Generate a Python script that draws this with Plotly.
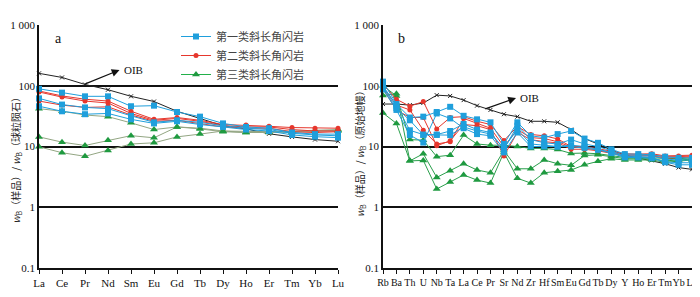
import plotly.graph_objects as go

# ---------------- data ----------------
ree = ["La", "Ce", "Pr", "Nd", "Sm", "Eu", "Gd", "Tb", "Dy", "Ho", "Er", "Tm", "Yb", "Lu"]
oib_ree = [160, 137, 105, 86, 67, 55, 38, 29, 22, 19.5, 16.2, 14.4, 13, 12.2]
type1_ree = [
    [89, 77, 67, 67, 46, 47, 37, 31, 24, 21, 20, 17, 16, 16],
    [62, 49, 44, 42, 32, 25, 27, 25, 22, 20, 19, 16.5, 15.5, 15],
    [46, 38, 34, 35, 28, 24, 26, 23, 21, 19, 18, 15.5, 14.5, 14],
]
type2_ree = [
    [82, 68, 60, 56, 38, 28, 30, 27, 23, 22.5, 21.5, 20.5, 20, 20],
    [79, 65, 56, 52, 35, 27, 29, 26, 22, 21, 21, 19, 18, 18],
    [56, 48, 44, 45, 33, 26, 27, 24, 21, 20, 20, 17.5, 17, 17.5],
]
type3_ree = [
    [42, 38, 33, 31, 24.5, 19, 21, 20, 18, 17.5, 17.5, 18, 18.5, 19],
    [14.4, 11.8, 10.4, 12.7, 15.1, 13.9, 21, 19.5, 17.5, 17, 17.5, 17, 18, 18],
    [9.9, 7.9, 6.9, 8.6, 11, 11.5, 14.4, 16, 18, 17, 17, 17.5, 18, 18.5],
]

spider = ["Rb", "Ba", "Th", "U", "Nb", "Ta", "La", "Ce", "Pr", "Sr", "Nd", "Zr",
          "Hf", "Sm", "Eu", "Gd", "Tb", "Dy", "Y", "Ho", "Er", "Tm", "Yb", "Lu"]
oib_pm = [50, 50, 48, 52, 70, 68, 58, 47, 40, 34, 31, 26, 26, 25, 19, 13.5,
          11, 8.7, 7.2, 6.5, 5.9, 5.2, 4.5, 4.2]
type1_pm = [
    [117, 50, 30, 31, 37, 45, 32, 28, 25, 11, 25, 15, 14, 16, 18, 13.5, 11.5, 9, 7.5, 7.5, 7.3, 6.8, 6.5, 6.5],
    [100, 47, 18.5, 15.7, 15.7, 18, 23.5, 19, 17, 9, 22, 13, 11.5, 11, 13, 11, 10, 8.5, 7, 7, 7, 6.2, 6, 6],
    [87, 40, 15.4, 11.6, 35, 29, 20, 16, 15, 8, 17, 10, 10, 10, 10.5, 10, 9, 8, 6.8, 6.8, 6.6, 5.5, 5, 5],
    [95, 43, 27, 15.5, 15.5, 15.4, 21, 18, 16, 9.5, 19, 11, 10.5, 10, 10, 9.5, 8.8, 7.8, 6.6, 6.6, 6.4, 5.6, 5.4, 5.4],
]
type2_pm = [
    [105, 60, 46, 55, 19.5, 30, 31, 26, 23, 12.5, 21.4, 15.8, 15, 13.3, 10, 10, 9.2, 8.3, 7.6, 7.5, 7.6, 7, 7, 7.2],
    [95, 48, 40, 18.6, 11, 12, 29, 24, 20, 10, 19, 14, 13.5, 12, 9.8, 9.5, 8.8, 8, 7.3, 7.2, 7.2, 6.8, 6.8, 7],
    [90, 40, 30, 30, 10.3, 12.4, 23, 22, 19, 7, 17, 13, 12, 11.5, 9, 9, 8.5, 7.8, 7, 7, 7, 6.5, 6.5, 6.8],
]
type3_pm = [
    [100, 68, 13, 12.7, 6.8, 7.2, 15.4, 11, 10.5, 10.5, 10, 9.3, 9.3, 8.9, 7.7, 7.8, 7.6, 7, 6.6, 6.6, 6.5, 6.3, 6.3, 6.5],
    [69, 74, 5.8, 7.6, 3.1, 4.0, 5.2, 4.1, 3.7, 8.6, 4.3, 4.3, 6.0, 5.2, 4.9, 7.1, 7.3, 6.8, 6.3, 6.3, 6.3, 5.8, 6, 6.2],
    [35.5, 24, 5.8, 5.9, 2.0, 2.6, 3.4, 2.8, 2.5, 8.0, 3.0, 2.5, 3.7, 3.9, 4.1, 5.0, 5.7, 6.3, 6, 6, 6, 5.5, 5.8, 6],
]

labels = ["第一类斜长角闪岩", "第二类斜长角闪岩", "第三类斜长角闪岩"]
yticks = [0.1, 1, 10, 100, 1000]
ytext = ["0.1", "1", "10", "100", "1 000"]

# ---------------- style ----------------
BLUE = "#1f9fdc"
RED = "#e6372d"
GREEN = "#1f9a40"
GREEN_LINE_L = "#93a683"
GREEN_LINE_R = "#2a9f4c"
SERIF = "Liberation Serif"
CJK = "Noto Sans CJK SC"

fig = go.Figure()


def add_group(xs, series, name, color, symbol, msize, lcolor, xa, ya):
    for vals in series:
        fig.add_trace(go.Scatter(
            x=list(range(len(xs))), y=vals, mode="lines+markers",
            line=dict(color=lcolor, width=1),
            marker=dict(symbol=symbol, size=msize, color=color),
            name=name, showlegend=False,
            xaxis=xa, yaxis=ya, cliponaxis=False))


def add_oib(xs, vals, xa, ya):
    fig.add_trace(go.Scatter(
        x=list(range(len(xs))), y=vals, mode="lines+markers",
        line=dict(color="#222222", width=1),
        marker=dict(symbol="x-thin", size=4, color="#222222",
                    line=dict(color="#222222", width=1)),
        showlegend=False, xaxis=xa, yaxis=ya, cliponaxis=False))


# left panel
add_oib(ree, oib_ree, "x", "y")
add_group(ree, type3_ree, labels[2], GREEN, "triangle-up", 7, GREEN_LINE_L, "x", "y")
add_group(ree, type2_ree, labels[1], RED, "circle", 5, RED, "x", "y")
add_group(ree, type1_ree, labels[0], BLUE, "square", 6, BLUE, "x", "y")

# right panel
add_oib(spider, oib_pm, "x2", "y2")
add_group(spider, type3_pm, labels[2], GREEN, "triangle-up", 7, GREEN_LINE_R, "x2", "y2")
add_group(spider, type2_pm, labels[1], RED, "circle", 5, RED, "x2", "y2")
add_group(spider, type1_pm, labels[0], BLUE, "square", 6, BLUE, "x2", "y2")

# legend entries (visible only in legend)
for name, color, symbol, msize, lc in [
        (labels[0], BLUE, "square", 6, BLUE),
        (labels[1], RED, "circle", 5, RED),
        (labels[2], GREEN, "triangle-up", 7, "#22b04a")]:
    fig.add_trace(go.Scatter(
        x=[None], y=[None], mode="lines+markers", name=name,
        line=dict(color=lc, width=1),
        marker=dict(symbol=symbol, size=msize, color=color),
        xaxis="x", yaxis="y", showlegend=True))

# The page body has an 8px default margin, so the figure is drawn 8px smaller
# and all reference pixel positions are shifted by 8.
OFF = 8
W, H = 700 - OFF, 297 - OFF
L = 39 - OFF          # plot left (ref px 39)
T = 25 - OFF          # plot top (ref px 25)
B = H - (268 - OFF)   # plot bottom (ref px 268)
R = W - (692 - OFF)   # plot right (ref px 692)
pw = W - L - R
ph = H - T - B


def xp(ref_px):
    return (ref_px - OFF - L) / pw


def yp(ref_py):
    return 1 - (ref_py - OFF - T) / ph


xcommon = dict(showgrid=False, zeroline=False, showline=True, linecolor="#111",
               linewidth=1.5, ticks="outside", ticklen=4, tickwidth=1,
               tickcolor="#111", tickangle=0, automargin=False,
               tickfont=dict(family=SERIF, size=11, color="#111"))
ycommon = dict(type="log", range=[-1, 3], tickvals=yticks, ticktext=ytext,
               showgrid=True, gridcolor="#111", gridwidth=1.6, zeroline=False,
               showline=True, linecolor="#111", linewidth=1.5, ticks="",
               automargin=False,
               tickfont=dict(family=SERIF, size=11, color="#111"))

fig.update_layout(
    width=W, height=H, margin=dict(l=L, r=R, t=T, b=B, autoexpand=False),
    paper_bgcolor="white", plot_bgcolor="white",
    xaxis=dict(domain=[xp(39), xp(338)], range=[0, len(ree) - 1],
               tickvals=list(range(len(ree))), ticktext=ree, anchor="y", **xcommon),
    yaxis=dict(domain=[0, 1], anchor="x", **ycommon),
    xaxis2=dict(domain=[xp(383), xp(692)], range=[0, len(spider) - 1],
                tickvals=list(range(len(spider))), ticktext=spider, anchor="y2",
                **{**xcommon, "tickfont": dict(family=SERIF, size=10, color="#111")}),
    yaxis2=dict(domain=[0, 1], anchor="x2", **ycommon),
    legend=dict(x=xp(176), y=yp(22), xanchor="left",
                yanchor="top", bgcolor="rgba(255,255,255,0)",
                font=dict(family=CJK, size=11, color="#444"),
                tracegroupgap=0, itemwidth=30),
    showlegend=True,
)

ann = []
# panel letters
ann.append(dict(text="a", x=xp(58), y=yp(39), xref="paper", yref="paper",
                xanchor="center", yanchor="middle",
                showarrow=False, font=dict(family=SERIF, size=14, color="#111")))
ann.append(dict(text="b", x=xp(401), y=yp(39), xref="paper", yref="paper",
                xanchor="center", yanchor="middle",
                showarrow=False, font=dict(family=SERIF, size=14, color="#111")))
# y titles
ann.append(dict(text="<i>w</i><sub>B</sub>（样品）/ <i>w</i><sub>B</sub>（球粒陨石）",
                x=xp(15.5), y=yp(158), xref="paper", yref="paper", textangle=-90,
                xanchor="center", yanchor="middle",
                showarrow=False, font=dict(family=CJK, size=10, color="#222")))
ann.append(dict(text="<i>w</i><sub>B</sub>（样品）/ <i>w</i><sub>B</sub>（原始地幔）",
                x=xp(360), y=yp(152), xref="paper", yref="paper", textangle=-90,
                xanchor="center", yanchor="middle",
                showarrow=False, font=dict(family=CJK, size=10, color="#222")))
# OIB arrows
ann.append(dict(x=3.5, y=2.26, xref="x", yref="y", ax=1.95, ay=2.02, axref="x", ayref="y",
                text="", showarrow=True, arrowhead=2, arrowsize=1.3, arrowwidth=1.2,
                arrowcolor="#111"))
ann.append(dict(text="OIB", x=3.6, y=2.26, xref="x", yref="y", xanchor="left",
                showarrow=False, font=dict(family=SERIF, size=11, color="#111")))
ann.append(dict(x=9.9, y=1.80, xref="x2", yref="y2", ax=7.5, ay=1.61, axref="x2", ayref="y2",
                text="", showarrow=True, arrowhead=2, arrowsize=1.3, arrowwidth=1.2,
                arrowcolor="#111"))
ann.append(dict(text="OIB", x=10.05, y=1.80, xref="x2", yref="y2", xanchor="left",
                showarrow=False, font=dict(family=SERIF, size=11, color="#111")))
fig.update_layout(annotations=ann)

fig.write_html("out.html")
